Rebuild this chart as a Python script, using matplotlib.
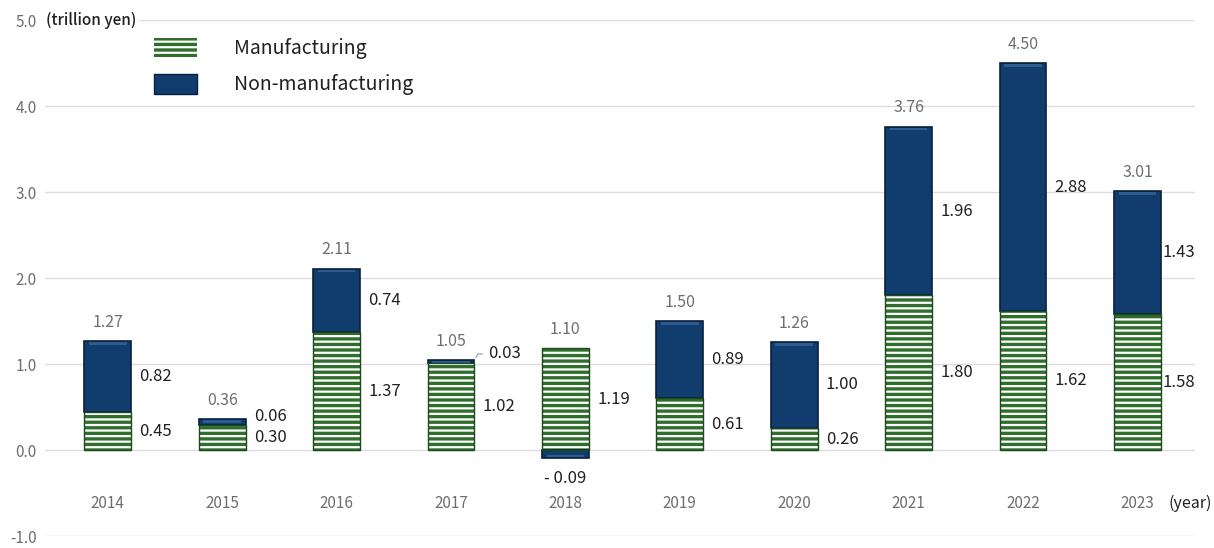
import numpy as np
import matplotlib.pyplot as plt
from matplotlib.patches import Patch

plt.rcParams['font.family'] = ['Noto Sans CJK JP', 'DejaVu Sans']
plt.rcParams['hatch.linewidth'] = 1.6
plt.rcParams['axes.unicode_minus'] = False

years = ['2014', '2015', '2016', '2017', '2018', '2019', '2020', '2021', '2022', '2023']
manufacturing = [0.45, 0.30, 1.37, 1.02, 1.19, 0.61, 0.26, 1.80, 1.62, 1.58]
non_manufacturing = [0.82, 0.06, 0.74, 0.03, -0.09, 0.89, 1.00, 1.96, 2.88, 1.43]
totals = [1.27, 0.36, 2.11, 1.05, 1.10, 1.50, 1.26, 3.76, 4.50, 3.01]
y_ticks = [-1.0, 0.0, 1.0, 2.0, 3.0, 4.0, 5.0]

green = '#2f6e2c'
navy = '#103c6e'
grey_txt = '#6e6e6e'
dark_txt = '#231f20'

fig = plt.figure(figsize=(12.14, 5.48), dpi=100)
ax = fig.add_axes([0.037, 0.021, 0.947, 0.9425])

x = np.arange(len(years))
w = 0.41
mfg = np.array(manufacturing)
nonm = np.array(non_manufacturing)
bottom_non = np.where(nonm >= 0, mfg, 0)
sgn = np.sign(nonm)

# manufacturing: green with white stripes
ax.bar(x, mfg, w, color=green, linewidth=0, zorder=3)
ax.bar(x, mfg, w, facecolor='none', edgecolor='white', hatch='---', linewidth=0, zorder=4)
ax.bar(x, mfg, w, facecolor='none', edgecolor='#1d4a1c', linewidth=1.0, zorder=5)

# non-manufacturing: navy block, light band along the top edge
ax.bar(x, nonm, w, bottom=bottom_non, color=navy, edgecolor='#08203f', linewidth=1.2, zorder=3)
top_band = np.minimum(np.abs(nonm), 0.05) * sgn
ax.bar(x, -top_band * 0.6, w * 0.8, bottom=bottom_non + nonm - sgn * 0.012,
       color='#2c5b8e', linewidth=0, zorder=4)

# value labels
for i in range(len(years)):
    top = max(mfg[i], mfg[i] + max(nonm[i], 0))
    ax.text(x[i], top + 0.12, f'{totals[i]:.2f}', ha='center', va='bottom',
            color=grey_txt, fontsize=11.5, zorder=6)

    dx = 1 if years[i] == '2023' else 6
    ax.annotate(f'{manufacturing[i]:.2f}', (x[i] + w / 2, mfg[i] / 2),
                xytext=(dx, 0), textcoords='offset points', ha='left', va='center',
                color=dark_txt, fontsize=12, zorder=6)

    if years[i] == '2017':
        ax.annotate(f'{non_manufacturing[i]:.2f}', (x[i] + w / 2, mfg[i] + nonm[i]),
                    xytext=(x[i] + w / 2 + 0.12, mfg[i] + nonm[i] + 0.07),
                    ha='left', va='center', color=dark_txt, fontsize=12, zorder=6,
                    arrowprops=dict(arrowstyle='-', color='#999999', lw=0.8,
                                    connectionstyle='angle,angleA=0,angleB=60'))
    elif nonm[i] < 0:
        ax.text(x[i], -0.33, '- ' + f'{abs(non_manufacturing[i]):.2f}', ha='center', va='center',
                color=dark_txt, fontsize=12, zorder=6)
    elif years[i] == '2015':
        ax.annotate(f'{non_manufacturing[i]:.2f}', (x[i] + w / 2, 0.39),
                    xytext=(dx, 0), textcoords='offset points', ha='left', va='center',
                    color=dark_txt, fontsize=12, zorder=6)
    else:
        ax.annotate(f'{non_manufacturing[i]:.2f}', (x[i] + w / 2, mfg[i] + nonm[i] / 2),
                    xytext=(dx, 0), textcoords='offset points', ha='left', va='center',
                    color=dark_txt, fontsize=12, zorder=6)

# year labels sit inside the plot above the -1.0 line
for i, yr in enumerate(years):
    ax.text(x[i], -0.62, yr, ha='center', va='center', color=grey_txt, fontsize=11)
ax.text(x[-1] + 0.27, -0.62, '(year)', ha='left', va='center', color=dark_txt, fontsize=11.5)

ax.set_xlim(-0.55, 9.5)
ax.set_ylim(-1.0, 5.0)
ax.set_yticks(y_ticks)
ax.set_yticklabels([f'{v:.1f}' for v in y_ticks], color=grey_txt, fontsize=11)
ax.set_xticks([])
ax.tick_params(axis='y', length=0, pad=6)
ax.grid(axis='y', color='#dcdcdc', linewidth=1.0, zorder=0)
ax.set_axisbelow(True)
for s in ax.spines.values():
    s.set_visible(False)

ax.text(-0.54, 5.0, '(trillion yen)', ha='left', va='center', color=dark_txt, fontsize=11,
        fontweight='medium', bbox=dict(facecolor='white', edgecolor='none', pad=2), zorder=2)

handles = [Patch(facecolor=green, edgecolor='white', hatch='---', linewidth=0),
           Patch(facecolor=navy, edgecolor='#08203f', linewidth=1.0)]
leg = ax.legend(handles, ['Manufacturing', 'Non-manufacturing'], loc='upper left',
                bbox_to_anchor=(0.08, 1.0), frameon=False, fontsize=14,
                handlelength=2.2, handleheight=1.2, handletextpad=1.9, labelspacing=0.75)
for t in leg.get_texts():
    t.set_color(dark_txt)

fig.savefig('out.png', dpi=100, facecolor='white')
